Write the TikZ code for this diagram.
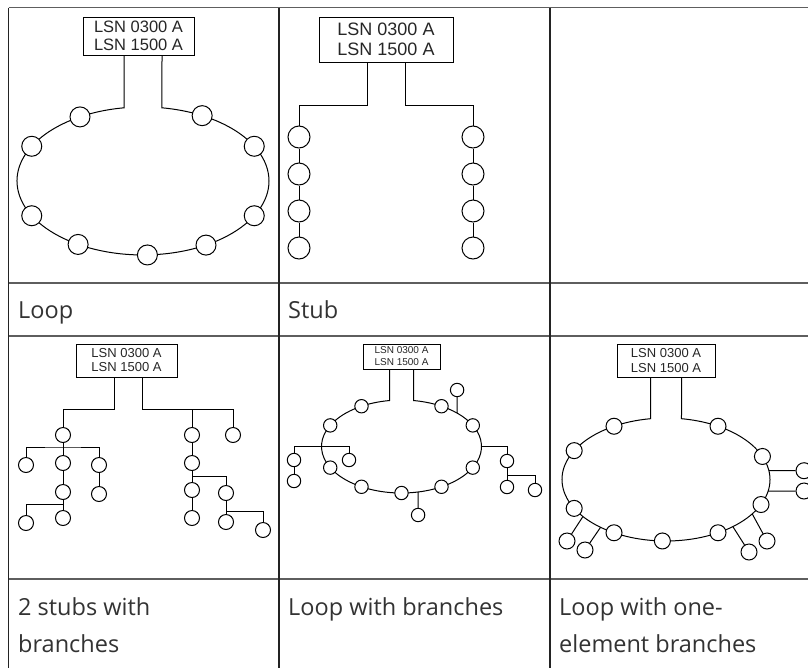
\documentclass[tikz,border=0pt]{standalone}
\usepackage{fontspec}
\setmainfont{Open Sans}
\newfontfamily\lsnfont{Liberation Sans}
\usepackage{xcolor}
\usepackage{tikz}
\usetikzlibrary{calc}

\definecolor{gridgray}{HTML}{5E5E5E}
\definecolor{griddark}{HTML}{232323}
\definecolor{labelgray}{HTML}{333333}

\tikzset{
	lsn/.style={draw, align=center, inner sep=0pt, line width=0.9pt, text=black!85},
	dev/.style={circle, draw, fill=white, inner sep=0pt, line width=1pt},
	wire/.style={line width=1pt},
	celltext/.style={anchor=base west, align=left, inner sep=0pt, text=labelgray, font=\fontsize{23.5}{37}\selectfont},
}
\newcommand{\lsnlabel}{LSN 0300 A\\LSN 1500 A}

\begin{document}
\begin{tikzpicture}[x=1pt, y=-1pt]
			\useasboundingbox (0,0) rectangle (808,667);

			% table grid
			\draw[gridgray, line width=1.4pt] (8.5,7.5) -- (830,7.5);
			\draw[gridgray, line width=1.4pt] (8.5,283) -- (830,283);
			\draw[gridgray, line width=1.4pt] (8.5,336) -- (830,336);
			\draw[gridgray, line width=1.4pt] (8.5,579) -- (830,579);
			\draw[griddark, line width=1.4pt] (8.5,7.5) -- (8.5,690);
			\draw[griddark, line width=1.4pt] (279,7.5) -- (279,690);
			\draw[griddark, line width=1.4pt] (550,7.5) -- (550,690);

			% loop
			\node[lsn, minimum width=111pt, minimum height=38pt, font=\lsnfont\fontsize{16.5}{18}\selectfont] (lsn1) at (138.5,36) {\lsnlabel};
			\draw[wire] ([xshift=-14.5pt]lsn1.south) -- (124,107.8)
				arc[start angle=98.67, end angle=441.33, x radius=126pt, y radius=74pt]
				-- ([xshift=23.5pt]lsn1.south);
			\foreach \a [count=\i] in {62,28,-28,-60,-88,-121,-152,152,120}
				\node[dev, minimum size=20pt] (la\i) at ({143+126*cos(\a)},{181-74*sin(\a)}) {};

			% stub
			\node[lsn, minimum width=134pt, minimum height=45pt, font=\lsnfont\fontsize{18}{20}\selectfont] (lsn2) at (386,39.5) {\lsnlabel};
			\foreach \y [count=\i] in {137,174,211,248}
			{
				\node[dev, minimum size=22pt] (sa\i) at (299,\y) {};
				\node[dev, minimum size=22pt] (sb\i) at (473,\y) {};
			}
			\draw[wire] ([xshift=-19pt]lsn2.south) |- (299,105) -- (sa1);
			\draw[wire] ([xshift=19pt]lsn2.south) |- (473,105) -- (sb1);
			\foreach \i/\j in {1/2,2/3,3/4}
				\draw[wire] (sa\i) -- (sa\j) (sb\i) -- (sb\j);

			% 2 stubs with branches
			\node[lsn, minimum width=101pt, minimum height=33pt, font=\lsnfont\fontsize{13}{14}\selectfont] (lsn3) at (126.5,360.5) {\lsnlabel};
			\foreach \x/\y [count=\i] in {63/435,26/465,63/463,99/465,63/492,99/494,26/523,63/518}
				\node[dev, minimum size=15pt] (ta\i) at (\x,\y) {};
			\foreach \x/\y [count=\i] in {192/435,233/435,192/463,192/490,226/493,192/518,226/522,263/530}
				\node[dev, minimum size=15pt] (tb\i) at (\x,\y) {};
			\draw[wire] ([xshift=-12.5pt]lsn3.south) |- (63,409) -- (ta1);
			\draw[wire] (ta1) -- (ta3) -- (ta5) -- (ta8);
			\draw[wire] (ta2) |- (63,447) -| (ta4);
			\draw[wire] (ta4) -- (ta6);
			\draw[wire] (ta7) |- (63,504);
			\draw[wire] ([xshift=15.5pt]lsn3.south) |- (233,409) -- (tb2);
			\draw[wire] (192,409) -- (tb1);
			\draw[wire] (tb1) -- (tb3) -- (tb4) -- (tb6);
			\draw[wire] (tb5) |- (192,476);
			\draw[wire] (tb5) -- (tb7);
			\draw[wire] (tb8) |- (226,511);

			% loop with branches
			\node[lsn, minimum width=77pt, minimum height=25pt, font=\lsnfont\fontsize{10}{12}\selectfont] (lsn4) at (401.5,356.5) {\lsnlabel};
			\draw[wire] ([xshift=-12pt]lsn4.south) -- (389.5,400.53)
				arc[start angle=98.63, end angle=441.37, x radius=80pt, y radius=46.5pt]
				-- ([xshift=12pt]lsn4.south);
			\foreach \a [count=\i] in {60,27,-27,-60,-90,-120,-153,153,120}
				\node[dev, minimum size=13.4pt] (lb\i) at ({401.5+80*cos(\a)},{446.5-46.5*sin(\a)}) {};
			\coordinate (e4u) at ({401.5+80*cos(46)},{446.5-46.5*sin(46)});
			\coordinate (e4l) at (321.5,446.5);
			\coordinate (e4r) at (481.5,446.5);
			\coordinate (e4b) at ({401.5+80*cos(-78)},{446.5+46.5*sin(78)});
			\node[dev, minimum size=13.4pt] (ua) at (457.1,390) {};
			\node[dev, minimum size=13.4pt] (pa1) at (294,460) {};
			\node[dev, minimum size=13.4pt] (pa2) at (294,481) {};
			\node[dev, minimum size=13.4pt] (pa3) at (349,460) {};
			\node[dev, minimum size=13.4pt] (qa1) at (507,461) {};
			\node[dev, minimum size=13.4pt] (qa2) at (507,487) {};
			\node[dev, minimum size=13.4pt] (qa3) at (535,490) {};
			\node[dev, minimum size=13.4pt] (va) at (418.1,515) {};
			\draw[wire] (e4u) -- (ua);
			\draw[wire] (pa1) |- (e4l) -| (pa3);
			\draw[wire] (pa1) -- (pa2);
			\draw[wire] (e4r) -| (qa1);
			\draw[wire] (qa1) -- (qa2);
			\draw[wire] (qa3) |- (507,475);
			\draw[wire] (e4b) -- (va);

			% loop with one-element branches
			\node[lsn, minimum width=98pt, minimum height=33pt, font=\lsnfont\fontsize{13}{15}\selectfont] (lsn5) at (666,360.5) {\lsnlabel};
			\draw[wire] ([xshift=-15.5pt]lsn5.south) -- (650.5,418.69)
				arc[start angle=98.57, end angle=441.43, x radius=104pt, y radius=61.5pt]
				-- ([xshift=15.5pt]lsn5.south);
			\foreach \a [count=\i] in {60,22,-24,-60,-92,-120,-152,152,120}
				\node[dev, minimum size=16pt] (lc\i) at ({666+104*cos(\a)},{479.5-61.5*sin(\a)}) {};
			\foreach \a/\x/\y [count=\i] in {8.2/804/470.7,-10.8/804/491,217/567/541,231/585/550,310/749/552,326/767/541}
			{
				\coordinate (e5-\i) at ({666+104*cos(\a)},{479.5-61.5*sin(\a)});
				\node[dev, minimum size=16pt] (ob\i) at (\x,\y) {};
				\draw[wire] (e5-\i) -- (ob\i);
			}

			% captions
			\node[celltext] (cap1) at (18,318) {Loop};
			\node[celltext] (cap2) at (288,318) {Stub};
			\node[celltext] (cap3) at (18,652) {2 stubs with\\branches};
			\node[celltext] (cap4) at (288,615) {Loop with branches};
			\node[celltext] (cap5) at (559,652) {Loop with one-\\element branches};
		\end{tikzpicture}
\end{document}
